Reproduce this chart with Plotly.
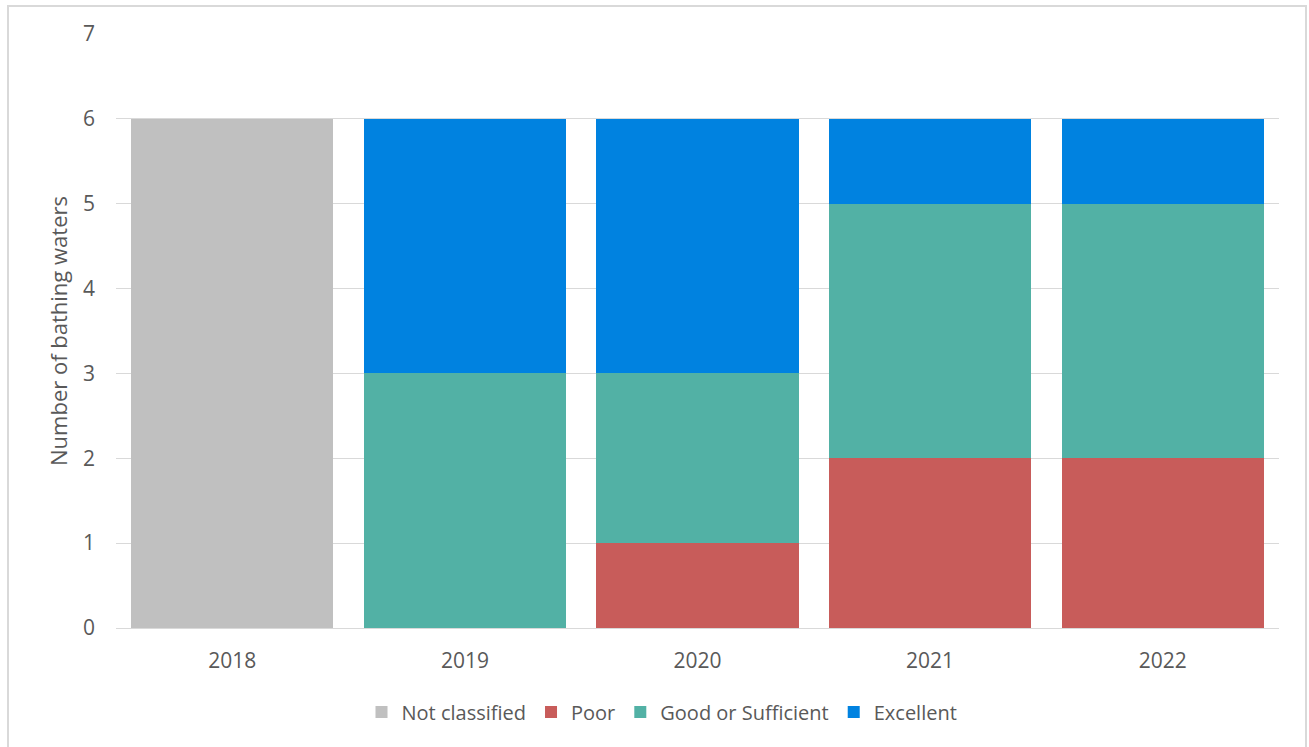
import plotly.graph_objects as go

years = ["2018", "2019", "2020", "2021", "2022"]
not_classified = [6, 0, 0, 0, 0]
poor = [0, 0, 1, 2, 2]
good_or_sufficient = [0, 3, 2, 3, 3]
excellent = [0, 3, 3, 1, 1]

series = [
    ("Not classified", not_classified, "#C0C0C0"),
    ("Poor", poor, "#C85C5A"),
    ("Good or Sufficient", good_or_sufficient, "#52B1A5"),
    ("Excellent", excellent, "#0082E0"),
]

W, H = 1309, 747
L, R, T, B = 116, 30, 34, 119
pw, ph = W - L - R, H - T - B

def px_x(x):
    return (x - L) / pw

def px_y(y):
    return (H - B - y) / ph

fig = go.Figure()
for name, vals, col in series:
    fig.add_trace(go.Bar(x=years, y=vals, name=name,
                         marker=dict(color=col, line=dict(width=0))))

font = "Open Sans, Liberation Sans, sans-serif"
fig.update_layout(
    width=W, height=H,
    margin=dict(l=L, r=R, t=T, b=B),
    barmode="stack", bargap=0.13,
    plot_bgcolor="white", paper_bgcolor="white",
    font=dict(family=font, size=21, color="#595959"),
    showlegend=True,
    legend=dict(orientation="h", x=px_x(662), xanchor="center",
                y=px_y(712), yanchor="middle", traceorder="normal",
                font=dict(size=20, color="#595959"), itemwidth=30),
    xaxis=dict(showgrid=False, showline=True, linecolor="#D9D9D9", linewidth=1,
               ticks="", ticklabelstandoff=14, tickfont=dict(size=21)),
    yaxis=dict(range=[0, 7], dtick=1, showgrid=True, gridcolor="#D9D9D9",
               gridwidth=1, zeroline=False, showline=False, ticks="",
               ticklabelstandoff=20, tickfont=dict(size=21)),
    annotations=[dict(text="Number of bathing waters", xref="paper", yref="paper",
                      x=px_x(58), y=px_y(331), textangle=-90, showarrow=False,
                      xanchor="center", yanchor="middle",
                      font=dict(size=22, color="#595959"))],
    shapes=[dict(type="rect", xref="paper", yref="paper",
                 x0=px_x(8), x1=px_x(1306), y0=px_y(760), y1=px_y(6),
                 line=dict(color="#D9D9D9", width=2), layer="below")],
)

fig.write_html("out.html", config={"displayModeBar": False},
               post_script="document.body.style.margin='0';document.body.style.overflow='hidden';")
